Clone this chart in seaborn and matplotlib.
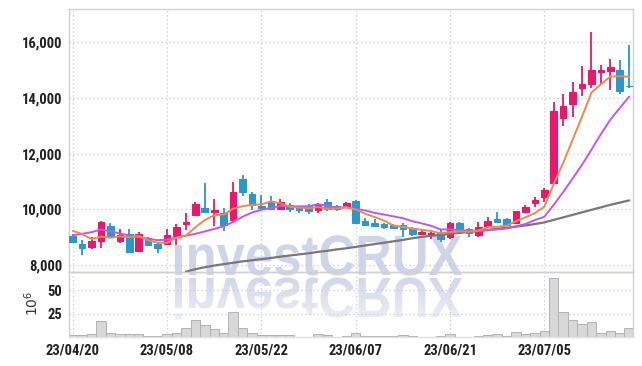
import numpy as np
import pandas as pd
import matplotlib
matplotlib.use("Agg")
import matplotlib.pyplot as plt
import seaborn as sns
from matplotlib.textpath import TextPath
from matplotlib.patches import PathPatch
from matplotlib.font_manager import FontProperties, findfont
from matplotlib.transforms import Affine2D

# ---------------- data ----------------
dates = ["23/04/20", "23/04/21", "23/04/24", "23/04/25", "23/04/26", "23/04/27", "23/04/28",
         "23/05/02", "23/05/03", "23/05/04", "23/05/08", "23/05/09", "23/05/10", "23/05/11",
         "23/05/12", "23/05/15", "23/05/16", "23/05/17", "23/05/18", "23/05/19", "23/05/22",
         "23/05/23", "23/05/24", "23/05/25", "23/05/26", "23/05/30", "23/05/31", "23/06/01",
         "23/06/02", "23/06/05", "23/06/07", "23/06/08", "23/06/09", "23/06/12", "23/06/13",
         "23/06/14", "23/06/15", "23/06/16", "23/06/19", "23/06/20", "23/06/21", "23/06/22",
         "23/06/23", "23/06/26", "23/06/27", "23/06/28", "23/06/29", "23/06/30", "23/07/03",
         "23/07/04", "23/07/05", "23/07/06", "23/07/07", "23/07/10", "23/07/11", "23/07/12",
         "23/07/13", "23/07/14", "23/07/17", "23/07/18"]

open_ = [9040, 8750, 8660, 8870, 9400, 8860, 9100, 8510, 8970, 8740,
         8750, 9040, 9460, 9800, 10040, 9910, 9880, 9620, 11090, 10550,
         10120, 10270, 10010, 10150, 10070, 10120, 9980, 10270, 10120, 10070,
         10300, 9590, 9520, 9460, 9430, 9440, 9320, 9110, 9080, 9200,
         9020, 9500, 9280, 9080, 9400, 9650, 9640, 9500, 9900, 10220,
         10430, 10960, 13270, 13770, 14370, 14490, 14930, 14970, 15000, 14440]
high = [9110, 8900, 9020, 9590, 9500, 9280, 9280, 9200, 9020, 8840,
        9280, 9460, 9860, 10270, 10960, 10370, 10040, 10980, 11230, 10610,
        10510, 10490, 10360, 10220, 10130, 10190, 10240, 10360, 10150, 10260,
        10330, 9680, 9640, 9520, 9470, 9520, 9380, 9260, 9200, 9260,
        9560, 9560, 9320, 9560, 9730, 9910, 9680, 9950, 10150, 10450,
        10750, 13860, 14140, 14560, 15140, 16350, 15180, 15390, 15360, 15900]
low = [8800, 8350, 8560, 8600, 9020, 8780, 8470, 8480, 8720, 8420,
       8720, 8720, 9260, 9760, 9880, 9400, 9230, 9560, 10480, 9980,
       9980, 9980, 9980, 9900, 9860, 9820, 9880, 9940, 9940, 10050,
       9470, 9400, 9350, 9290, 9300, 9020, 9050, 9080, 8920, 8840,
       8920, 9200, 9020, 9020, 9350, 9500, 9400, 9460, 9860, 10090,
       10270, 10930, 12990, 13320, 14070, 14370, 14500, 14280, 14140, 14340]
close = [8840, 8620, 8860, 9540, 9040, 9070, 8480, 9100, 8730, 8620,
         9070, 9350, 9540, 10190, 9910, 9960, 9440, 10610, 10630, 10150,
         10040, 10000, 10270, 10000, 9980, 9950, 10190, 10000, 10010, 10240,
         9520, 9440, 9400, 9380, 9340, 9290, 9110, 9200, 9160, 8930,
         9520, 9230, 9140, 9350, 9580, 9550, 9440, 9930, 10070, 10330,
         10690, 13540, 13710, 14220, 14500, 15000, 15000, 15120, 14260, 14410]

ma5 = [9230, 9110, 8930, 9020, 8980, 9026, 8998, 9046, 8884, 8800,
       8800, 8974, 9062, 9354, 9612, 9790, 9808, 10022, 10110, 10158,
       10174, 10286, 10218, 10092, 10058, 10040, 10078, 10024, 10026, 10078,
       9992, 9842, 9722, 9596, 9416, 9370, 9304, 9264, 9220, 9138,
       9184, 9208, 9196, 9234, 9364, 9370, 9412, 9570, 9714, 9864,
       10092, 10912, 11668, 12498, 13332, 14194, 14486, 14768, 14776, 14758]
ma10 = [9070, 9120, 9180, 9270, 9210, 9130, 9060, 9000, 8940, 8890,
        8913, 8986, 9054, 9119, 9206, 9295, 9391, 9542, 9732, 9885,
        9982, 10047, 10120, 10101, 10108, 10107, 10182, 10121, 10059, 10068,
        10016, 9960, 9873, 9811, 9747, 9681, 9573, 9493, 9408, 9277,
        9277, 9256, 9230, 9227, 9251, 9277, 9310, 9383, 9474, 9614,
        9731, 10162, 10619, 11106, 11598, 12143, 12699, 13218, 13637, 14045]
ma60 = [None] * 12 + [
        7760, 7850, 7920, 7980, 8030, 8080, 8130, 8170, 8210, 8250,
        8300, 8340, 8380, 8420, 8470, 8510, 8560, 8600, 8650, 8700,
        8750, 8800, 8850, 8900, 8960, 9010, 9050, 9080, 9120, 9150,
        9190, 9220, 9260, 9300, 9340, 9380, 9420, 9470, 9530, 9620,
        9710, 9800, 9890, 9980, 10070, 10160, 10240, 10320]

volume = [2.1, 2.0, 3.5, 17.4, 4.6, 3.5, 3.5, 3.5, 1.4, 1.4,
          3.5, 4.9, 9.9, 18.5, 13.0, 8.5, 4.3, 26.7, 9.6, 4.3,
          2.8, 2.8, 2.8, 2.1, 0.7, 0.7, 3.2, 2.1, 0.7, 1.8,
          4.3, 1.4, 1.0, 1.0, 1.0, 2.1, 1.0, 0.7, 0.7, 1.4,
          3.2, 0.7, 0.7, 1.0, 2.1, 3.2, 1.0, 5.3, 3.5, 4.6,
          6.7, 63.0, 26.7, 18.2, 14.2, 16.0, 4.9, 6.7, 4.6, 9.6]

price_ticks = [8000, 10000, 12000, 14000, 16000]
volume_ticks = [25, 50]
watermark = "investCRUX"

# ---------------- style ----------------
sns.set_style("white")


def pick(fams):
    for f in fams:
        try:
            findfont(FontProperties(family=f), fallback_to_default=False)
            return f
        except Exception:
            pass
    return "DejaVu Sans"


label_font = pick(["Liberation Sans Narrow", "Roboto Condensed", "Liberation Sans"])
wm_font = pick(["Liberation Sans", "DejaVu Sans"])
plt.rcParams["font.family"] = [label_font, "DejaVu Sans"]

UP = "#e6196a"
DOWN = "#2d97c9"
GRID = "#c9c9da"
SPINE = "#cfcfd6"
WM = "#cfd4e8"

df = pd.DataFrame({"idx": np.arange(len(dates)), "date": dates, "open": open_, "high": high,
                   "low": low, "close": close, "ma5": ma5, "ma10": ma10,
                   "ma60": pd.to_numeric(pd.Series(ma60), errors="coerce"), "volume": volume})

W, H = 642, 366
fig = plt.figure(figsize=(W / 100, H / 100), dpi=100, facecolor="white")

# background overlay for the watermark (pixel coordinates)
bg = fig.add_axes([0, 0, 1, 1], zorder=-1)
bg.set_xlim(0, W)
bg.set_ylim(0, H)
bg.axis("off")

tp = TextPath((0, 0), watermark, size=50, prop=FontProperties(family=wm_font, weight="bold"))
ext = tp.get_extents()
sx = 287 / ext.width
sy = sx * 1.12
x0 = 175
main_tr = Affine2D().translate(-ext.x0, 0).scale(sx, sy).translate(x0, H - 275) + bg.transData
bg.add_patch(PathPatch(tp, transform=main_tr, facecolor=WM, edgecolor="none"))
refl_tr = Affine2D().translate(-ext.x0, 0).scale(sx, -sy).translate(x0, H - 278) + bg.transData
refl_patch = PathPatch(tp, transform=refl_tr, facecolor="none", edgecolor="none")
bg.add_patch(refl_patch)
grad = np.zeros((100, 1, 4))
base = np.array([0xcf, 0xd4, 0xe8]) / 255
grad[..., :3] = base
grad[:, 0, 3] = np.linspace(0.95, 0.25, 100)
im = bg.imshow(grad, extent=(x0 - 5, x0 + 300, H - 330, H - 277), aspect="auto",
               origin="upper", interpolation="bilinear")
im.set_clip_path(refl_patch)

left, right = 68.5, 632.5
axp = fig.add_axes([left / W, 1 - 272.3 / H, (right - left) / W, (272.3 - 9.3) / H])
axv = fig.add_axes([left / W, 1 - 337.3 / H, (right - left) / W, 65 / H], sharex=axp)
for a in (axp, axv):
    a.set_facecolor("none")

# ---------------- candles ----------------
cols = [UP if c >= o else DOWN for o, c in zip(df["open"], df["close"])]
axp.vlines(df["idx"], df["low"], df["high"], colors=cols, linewidth=1.3, zorder=2)
body_bottom = np.minimum(df["open"], df["close"])
body_h = np.abs(df["close"] - df["open"])
axp.bar(df["idx"], body_h, bottom=body_bottom, width=0.7, color=cols, edgecolor=cols,
        linewidth=0.8, zorder=3)

# ---------------- moving averages ----------------
sns.lineplot(data=df.dropna(subset=["ma60"]), x="idx", y="ma60", ax=axp, color="#787878",
             linewidth=1.6, zorder=4)
sns.lineplot(data=df, x="idx", y="ma10", ax=axp, color="#c855ea", linewidth=1.4, zorder=5)
sns.lineplot(data=df, x="idx", y="ma5", ax=axp, color="#f0884f", linewidth=1.4, zorder=6)

# ---------------- volume ----------------
sns.barplot(data=df, x="idx", y="volume", native_scale=True, width=1, color="#d8d8d8",
            edgecolor="#b2b2b2", linewidth=0.7, saturation=1, errorbar=None, ax=axv, zorder=2)

# ---------------- axes formatting ----------------
axp.set_xlim(-0.45, 59.35)
axp.set_ylim(7738, 17180)
axv.set_ylim(0, 69.4)

axp.set_yticks(price_ticks)
axp.set_yticklabels([f"{v:,}" for v in price_ticks])
axv.set_yticks(volume_ticks)
axv.set_yticklabels([str(v) for v in volume_ticks])
tick_idx = df["idx"][::10].tolist()
axv.set_xticks(tick_idx)
axv.set_xticklabels(df["date"][::10].tolist())

for a in (axp, axv):
    a.set_xlabel("")
    a.set_ylabel("")
    a.set_axisbelow(True)
    a.grid(True, linestyle=(0, (1, 2.2)), color=GRID, linewidth=0.9)
    a.tick_params(length=0, labelsize=10.5, labelcolor="#222222", pad=4.5)
    for lab in a.get_xticklabels() + a.get_yticklabels():
        lab.set_fontweight("bold")
    for s in a.spines.values():
        s.set_color(SPINE)
        s.set_linewidth(1.0)
        s.set_visible(True)
axp.tick_params(labelbottom=False)
axv.spines["bottom"].set_color("#e2e2e2")

fig.text(32 / W, 1 - 303 / H, r"$10^6$", rotation=90, ha="center", va="center",
         fontsize=10, color="#333333")

fig.savefig("out.png", dpi=100, facecolor="white")
